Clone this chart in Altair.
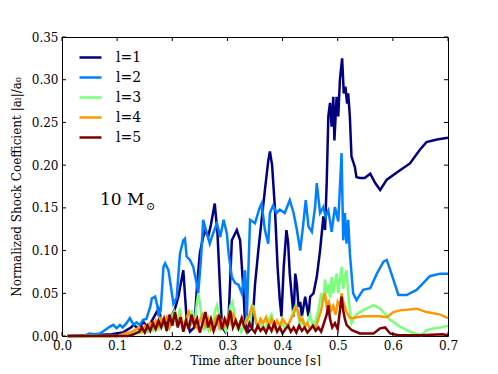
import altair as alt
import pandas as pd

# ---- data ----
series_names = ["l=1", "l=2", "l=3", "l=4", "l=5"]
series_colors = ["#000080", "#0080ff", "#7bff7b", "#ff9700", "#800000"]

l1_t = [0.01, 0.05, 0.09, 0.11, 0.125, 0.13, 0.14, 0.147, 0.155, 0.165, 0.175, 0.18, 0.19, 0.2, 0.205,
        0.211, 0.22, 0.226, 0.232, 0.24, 0.245, 0.25, 0.256, 0.26, 0.265, 0.27, 0.277, 0.282, 0.287, 0.29,
        0.296, 0.302, 0.308, 0.314, 0.317, 0.323, 0.329, 0.332, 0.338, 0.345, 0.35, 0.356, 0.362, 0.368,
        0.374, 0.377, 0.381, 0.386, 0.391, 0.395, 0.398, 0.402, 0.407, 0.41, 0.413, 0.42, 0.423, 0.426,
        0.429, 0.432, 0.435, 0.441, 0.447, 0.45, 0.456, 0.462, 0.468, 0.474, 0.477, 0.48, 0.483, 0.486,
        0.489, 0.492, 0.494, 0.498, 0.501, 0.504, 0.508, 0.511, 0.514, 0.517, 0.519, 0.522, 0.525, 0.531,
        0.534, 0.54, 0.549, 0.559, 0.568, 0.577, 0.589, 0.613, 0.631, 0.649, 0.661, 0.68, 0.7]
l1_v = [0.0, 0.001, 0.002, 0.004, 0.01, 0.013, 0.008, 0.017, 0.01, 0.02, 0.032, 0.02, 0.015, 0.025, 0.032,
        0.046, 0.077, 0.02, 0.005, 0.01, 0.06, 0.097, 0.116, 0.124, 0.116, 0.13, 0.155, 0.12, 0.05, 0.011,
        0.005, 0.019, 0.112, 0.12, 0.124, 0.112, 0.054, 0.015, 0.005, 0.01, 0.06, 0.10, 0.136, 0.171,
        0.205, 0.216, 0.2, 0.151, 0.08, 0.042, 0.023, 0.08, 0.124, 0.11, 0.073, 0.023, 0.073, 0.06,
        0.034, 0.04, 0.023, 0.046, 0.023, 0.046, 0.05, 0.069, 0.10, 0.14, 0.124, 0.179, 0.257, 0.273,
        0.245, 0.28, 0.229, 0.28, 0.257, 0.30, 0.325, 0.284, 0.292, 0.272, 0.284, 0.257, 0.21, 0.198,
        0.186, 0.185, 0.185, 0.19, 0.179, 0.171, 0.183, 0.194, 0.202, 0.218, 0.227, 0.23, 0.232]

l2_t = [0.01, 0.04, 0.05, 0.06, 0.069, 0.08, 0.087, 0.093, 0.099, 0.105, 0.11, 0.117, 0.123, 0.13, 0.135,
        0.141, 0.147, 0.153, 0.16, 0.163, 0.169, 0.173, 0.175, 0.179, 0.184, 0.187, 0.193, 0.197, 0.202,
        0.208, 0.214, 0.22, 0.223, 0.226, 0.232, 0.238, 0.244, 0.247, 0.252, 0.256, 0.262, 0.268, 0.274,
        0.281, 0.287, 0.293, 0.299, 0.302, 0.308, 0.314, 0.32, 0.326, 0.332, 0.335, 0.341, 0.35, 0.359,
        0.362, 0.368, 0.374, 0.377, 0.383, 0.389, 0.395, 0.404, 0.413, 0.42, 0.426, 0.432, 0.437, 0.442,
        0.447, 0.453, 0.459, 0.462, 0.468, 0.474, 0.478, 0.483, 0.489, 0.495, 0.501, 0.507, 0.51, 0.513,
        0.516, 0.519, 0.522, 0.528, 0.534, 0.546, 0.559, 0.571, 0.583, 0.589, 0.601, 0.61, 0.625, 0.643,
        0.655, 0.667, 0.686, 0.7]
l2_v = [0.0, 0.0, 0.003, 0.002, 0.003, 0.008, 0.011, 0.013, 0.009, 0.013, 0.01, 0.015, 0.021, 0.013, 0.016,
        0.013, 0.019, 0.02, 0.034, 0.044, 0.046, 0.035, 0.023, 0.03, 0.081, 0.085, 0.077, 0.06, 0.038,
        0.045, 0.097, 0.112, 0.114, 0.093, 0.089, 0.081, 0.062, 0.05, 0.09, 0.136, 0.122, 0.108, 0.12,
        0.132, 0.116, 0.136, 0.12, 0.097, 0.069, 0.062, 0.06, 0.05, 0.077, 0.019, 0.136, 0.132, 0.151,
        0.155, 0.124, 0.108, 0.144, 0.153, 0.144, 0.148, 0.144, 0.159, 0.144, 0.124, 0.10, 0.128, 0.159,
        0.128, 0.122, 0.151, 0.179, 0.144, 0.151, 0.14, 0.147, 0.122, 0.151, 0.134, 0.214, 0.112, 0.144,
        0.108, 0.136, 0.097, 0.05, 0.042, 0.054, 0.056, 0.073, 0.087, 0.089, 0.066, 0.048, 0.048, 0.054,
        0.062, 0.07, 0.073, 0.073]

l3_t = [0.01, 0.1, 0.12, 0.13, 0.14, 0.15, 0.155, 0.16, 0.165, 0.17, 0.175, 0.18, 0.185, 0.19, 0.195, 0.2,
        0.203, 0.207, 0.21, 0.214, 0.218, 0.222, 0.226, 0.23, 0.235, 0.24, 0.244, 0.247, 0.25, 0.254, 0.258,
        0.262, 0.266, 0.27, 0.275, 0.278, 0.281, 0.285, 0.289, 0.293, 0.297, 0.301, 0.305, 0.309, 0.313,
        0.317, 0.321, 0.325, 0.33, 0.335, 0.34, 0.344, 0.347, 0.351, 0.355, 0.36, 0.365, 0.37, 0.375, 0.38,
        0.385, 0.39, 0.395, 0.4, 0.405, 0.41, 0.415, 0.42, 0.424, 0.428, 0.432, 0.436, 0.44, 0.445, 0.45,
        0.455, 0.46, 0.465, 0.47, 0.474, 0.477, 0.48, 0.483, 0.486, 0.489, 0.492, 0.495, 0.498, 0.501,
        0.504, 0.507, 0.51, 0.513, 0.516, 0.519, 0.522, 0.525, 0.531, 0.54, 0.552, 0.565, 0.577, 0.586,
        0.595, 0.613, 0.631, 0.645, 0.652, 0.661, 0.675, 0.686, 0.7]
l3_v = [0.0, 0.0, 0.002, 0.005, 0.003, 0.008, 0.004, 0.01, 0.006, 0.012, 0.008, 0.02, 0.012, 0.006, 0.015,
        0.024, 0.028, 0.012, 0.02, 0.032, 0.015, 0.008, 0.018, 0.01, 0.03, 0.012, 0.035, 0.05, 0.04, 0.015,
        0.008, 0.012, 0.006, 0.01, 0.02, 0.03, 0.036, 0.025, 0.008, 0.012, 0.006, 0.015, 0.035, 0.04,
        0.025, 0.01, 0.015, 0.005, 0.012, 0.02, 0.008, 0.03, 0.036, 0.02, 0.01, 0.015, 0.008, 0.012, 0.02,
        0.025, 0.012, 0.006, 0.01, 0.015, 0.008, 0.012, 0.02, 0.03, 0.036, 0.025, 0.012, 0.02, 0.01, 0.015,
        0.025, 0.012, 0.018, 0.03, 0.05, 0.04, 0.066, 0.05, 0.06, 0.045, 0.069, 0.05, 0.062, 0.073, 0.05,
        0.065, 0.081, 0.055, 0.07, 0.077, 0.05, 0.03, 0.015, 0.023, 0.028, 0.032, 0.036, 0.032, 0.026,
        0.019, 0.011, 0.005, 0.002, 0.001, 0.007, 0.009, 0.01, 0.012]

l4_t = [0.01, 0.1, 0.11, 0.12, 0.13, 0.14, 0.145, 0.15, 0.155, 0.16, 0.165, 0.17, 0.175, 0.18, 0.185, 0.19,
        0.195, 0.2, 0.205, 0.21, 0.215, 0.22, 0.225, 0.23, 0.235, 0.24, 0.245, 0.25, 0.255, 0.26, 0.265,
        0.27, 0.275, 0.28, 0.285, 0.29, 0.295, 0.3, 0.305, 0.31, 0.315, 0.32, 0.325, 0.33, 0.335, 0.34,
        0.344, 0.348, 0.352, 0.356, 0.36, 0.365, 0.37, 0.375, 0.38, 0.385, 0.39, 0.395, 0.4, 0.405, 0.41,
        0.415, 0.42, 0.424, 0.428, 0.432, 0.436, 0.44, 0.445, 0.45, 0.455, 0.46, 0.465, 0.47, 0.474, 0.477,
        0.48, 0.484, 0.488, 0.492, 0.496, 0.5, 0.504, 0.507, 0.51, 0.513, 0.516, 0.522, 0.528, 0.546,
        0.577, 0.589, 0.601, 0.613, 0.643, 0.661, 0.686, 0.7]
l4_v = [0.0, 0.0, 0.002, 0.004, 0.006, 0.01, 0.005, 0.012, 0.008, 0.015, 0.01, 0.018, 0.012, 0.02, 0.015,
        0.022, 0.01, 0.018, 0.025, 0.015, 0.022, 0.012, 0.02, 0.028, 0.015, 0.02, 0.01, 0.018, 0.025, 0.012,
        0.02, 0.008, 0.015, 0.022, 0.01, 0.018, 0.012, 0.02, 0.015, 0.025, 0.018, 0.01, 0.02, 0.012, 0.018,
        0.025, 0.034, 0.03, 0.015, 0.011, 0.02, 0.015, 0.022, 0.012, 0.02, 0.01, 0.018, 0.012, 0.02, 0.015,
        0.012, 0.02, 0.025, 0.034, 0.03, 0.018, 0.02, 0.012, 0.015, 0.008, 0.012, 0.01, 0.02, 0.03, 0.045,
        0.05, 0.035, 0.04, 0.03, 0.035, 0.025, 0.04, 0.035, 0.05, 0.04, 0.035, 0.028, 0.021, 0.021, 0.023,
        0.023, 0.022, 0.028, 0.03, 0.032, 0.028, 0.025, 0.021]

l5_t = [0.01, 0.12, 0.13, 0.14, 0.145, 0.15, 0.155, 0.16, 0.165, 0.17, 0.175, 0.18, 0.185, 0.19, 0.195,
        0.2, 0.205, 0.21, 0.215, 0.22, 0.225, 0.23, 0.235, 0.24, 0.245, 0.25, 0.255, 0.26, 0.265, 0.27,
        0.275, 0.28, 0.285, 0.29, 0.295, 0.3, 0.305, 0.31, 0.315, 0.32, 0.326, 0.33, 0.335, 0.34, 0.345,
        0.35, 0.355, 0.36, 0.365, 0.37, 0.375, 0.38, 0.385, 0.39, 0.395, 0.4, 0.405, 0.41, 0.415, 0.42,
        0.425, 0.43, 0.435, 0.44, 0.445, 0.45, 0.455, 0.46, 0.465, 0.47, 0.475, 0.48, 0.483, 0.486, 0.49,
        0.495, 0.5, 0.504, 0.507, 0.51, 0.513, 0.516, 0.525, 0.54, 0.565, 0.577, 0.586, 0.595, 0.61, 0.65,
        0.69, 0.7]
l5_v = [0.0, 0.0, 0.002, 0.005, 0.01, 0.004, 0.012, 0.006, 0.015, 0.008, 0.018, 0.01, 0.02, 0.006, 0.025,
        0.012, 0.028, 0.01, 0.022, 0.005, 0.018, 0.008, 0.025, 0.012, 0.02, 0.004, 0.015, 0.028, 0.01, 0.02,
        0.006, 0.015, 0.025, 0.008, 0.02, 0.012, 0.03, 0.01, 0.018, 0.009, 0.021, 0.012, 0.005, 0.015, 0.008,
        0.004, 0.012, 0.006, 0.01, 0.004, 0.012, 0.006, 0.015, 0.005, 0.01, 0.003, 0.008, 0.012, 0.005, 0.01,
        0.004, 0.012, 0.006, 0.01, 0.004, 0.008, 0.012, 0.006, 0.01, 0.005, 0.015, 0.025, 0.036, 0.02, 0.01,
        0.015, 0.008, 0.03, 0.046, 0.03, 0.02, 0.013, 0.007, 0.003, 0.003, 0.009, 0.01, 0.003, 0.001, 0.001,
        0.002, 0.001]

x_ticks = [0.0, 0.1, 0.2, 0.3, 0.4, 0.5, 0.6, 0.7]
y_ticks = [0.0, 0.05, 0.10, 0.15, 0.20, 0.25, 0.30, 0.35]
annot_x = [0.069]
annot_y = [0.153]

# ---- build table ----
rows = []
for name, ts, vs in zip(series_names, [l1_t, l2_t, l3_t, l4_t, l5_t], [l1_v, l2_v, l3_v, l4_v, l5_v]):
    for t, v in zip(ts, vs):
        rows.append({"t": t, "v": v, "series": name})
df = pd.DataFrame(rows)

W, H = 386, 299
FONT = "DejaVu Serif"
xs = alt.Scale(domain=[0, 0.7], nice=False, zero=False)
ys = alt.Scale(domain=[0, 0.35], nice=False, zero=False)
X_ENC = alt.X("t:Q", scale=xs, title="Time after bounce [s]",
              axis=alt.Axis(values=x_ticks, format=".1f"))
Y_ENC = alt.Y("v:Q", scale=ys, title="Normalized Shock Coefficient |a\u2097|/a\u2080",
              axis=alt.Axis(values=y_ticks, format=".2f"))

lines = alt.Chart(df).mark_line(strokeWidth=2.5).encode(
    x=X_ENC,
    y=Y_ENC,
    color=alt.Color("series:N", scale=alt.Scale(domain=series_names, range=series_colors),
                    legend=alt.Legend(title=None, orient="none", legendX=16, legendY=8,
                                      symbolType="stroke", symbolSize=484, symbolStrokeWidth=2.5,
                                      labelFont=FONT, labelFontSize=14, labelOffset=13,
                                      rowPadding=0, padding=0, labelColor="black")),
    order=alt.Order("t:Q"),
)

xt = pd.DataFrame({"t": x_ticks})
yt = pd.DataFrame({"v": y_ticks})
tick_bottom = alt.Chart(xt).mark_rule(color="black").encode(
    x=X_ENC, y=alt.value(H), y2=alt.value(H - 4))
tick_top = alt.Chart(xt).mark_rule(color="black").encode(
    x=X_ENC, y=alt.value(0), y2=alt.value(4))
tick_left = alt.Chart(yt).mark_rule(color="black").encode(
    y=Y_ENC, x=alt.value(0), x2=alt.value(4))
tick_right = alt.Chart(yt).mark_rule(color="black").encode(
    y=Y_ENC, x=alt.value(W), x2=alt.value(W - 4))

ann = pd.DataFrame({"t": annot_x, "v": annot_y, "txt": ["10 M"], "sym": ["\u2299"]})
ann_text = alt.Chart(ann).mark_text(font=FONT, fontSize=17, align="left", baseline="alphabetic",
                                    color="black").encode(x=X_ENC, y=Y_ENC, text="txt:N")
ann_sym = alt.Chart(ann).mark_text(font=FONT, fontSize=11, align="left", baseline="alphabetic",
                                   color="black", dx=46, dy=5).encode(x=X_ENC, y=Y_ENC, text="sym:N")

chart = alt.layer(lines, tick_bottom, tick_top, tick_left, tick_right, ann_text, ann_sym).properties(
    width=W, height=H,
    autosize=alt.AutoSizeParams(type="none"),
    padding={"left": 54, "top": 29, "right": 42, "bottom": 30},
    background="white",
).configure_view(stroke="black", strokeWidth=1).configure_axis(
    labelFont=FONT, labelFontSize=12, labelColor="black", titleFont=FONT, titleFontSize=12,
    titleFontWeight="normal", titleColor="black", ticks=False, domain=False, grid=False,
    labelPadding=4, labelFlush=False, labelOverlap=False,
).configure_axisX(titlePadding=4).configure_axisY(titlePadding=8)

chart.save("out.html", embed_options={"renderer": "svg", "actions": False})
